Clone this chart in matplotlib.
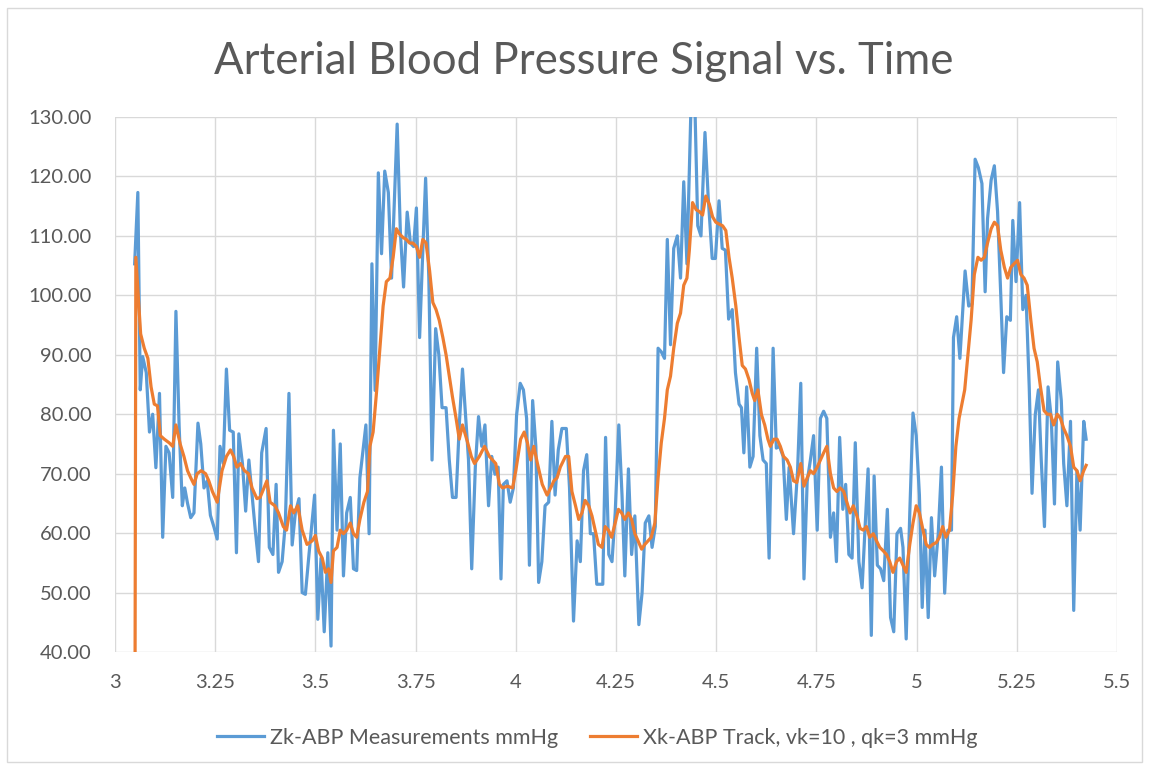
import numpy as np
import matplotlib.pyplot as plt
from matplotlib.patches import Rectangle

plt.rcParams['font.family'] = ['Lato', 'DejaVu Sans']

# Zk - ABP measurements (mmHg) vs time
zk_t = [3.049, 3.057, 3.063, 3.069, 3.078, 3.086, 3.094, 3.102, 3.111, 3.119,
        3.127, 3.135, 3.144, 3.152, 3.160, 3.168, 3.174, 3.181, 3.189, 3.197,
        3.207, 3.214, 3.222, 3.230, 3.238, 3.247, 3.255, 3.262, 3.270, 3.278,
        3.286, 3.295, 3.303, 3.309, 3.318, 3.326, 3.334, 3.342, 3.350, 3.358,
        3.366, 3.377, 3.385, 3.394, 3.402, 3.408, 3.417, 3.425,
        3.434, 3.442, 3.450, 3.459, 3.467, 3.475, 3.484, 3.498, 3.506, 3.514,
        3.522, 3.531, 3.539, 3.545, 3.554, 3.562, 3.570, 3.578, 3.587, 3.595,
        3.603, 3.611, 3.620, 3.626, 3.634, 3.641, 3.649, 3.657, 3.665, 3.673,
        3.682, 3.690, 3.698, 3.704, 3.712, 3.720, 3.729, 3.737, 3.745, 3.752,
        3.760, 3.768, 3.775, 3.783, 3.791, 3.800, 3.808, 3.816, 3.826, 3.834,
        3.842, 3.851, 3.859, 3.867,
        3.882, 3.890, 3.899, 3.907, 3.915, 3.923, 3.932, 3.940, 3.948, 3.956,
        3.963, 3.969, 3.978, 3.986, 3.994, 4.002, 4.011, 4.019, 4.027, 4.034,
        4.042, 4.050, 4.057, 4.065, 4.073, 4.082, 4.090, 4.098, 4.106, 4.115,
        4.126, 4.134, 4.144, 4.153, 4.161, 4.169, 4.177, 4.186, 4.194, 4.202,
        4.210, 4.217, 4.224, 4.232, 4.240, 4.248, 4.257, 4.265, 4.272, 4.281,
        4.289, 4.297,
        4.307, 4.315, 4.323, 4.332, 4.340, 4.348, 4.355, 4.363, 4.371, 4.378,
        4.386, 4.394, 4.403, 4.411, 4.419, 4.427, 4.437, 4.447, 4.454, 4.462,
        4.472, 4.480, 4.490, 4.498, 4.507, 4.515, 4.523, 4.531, 4.540, 4.548,
        4.557, 4.563, 4.569, 4.576, 4.584, 4.592, 4.601, 4.609, 4.617, 4.625,
        4.632, 4.642, 4.650, 4.658, 4.667, 4.675, 4.682, 4.693, 4.703, 4.711,
        4.719, 4.727, 4.735, 4.743, 4.752, 4.760, 4.768, 4.776, 4.785, 4.793,
        4.800, 4.808, 4.816, 4.823, 4.831, 4.839, 4.847, 4.856, 4.864, 4.872,
        4.879, 4.887, 4.894, 4.902, 4.910, 4.918, 4.927, 4.935, 4.943, 4.951,
        4.960, 4.966, 4.974, 4.983, 4.991, 4.999, 5.007, 5.014, 5.021, 5.029,
        5.037, 5.045, 5.054, 5.062, 5.070, 5.078, 5.087, 5.092, 5.100, 5.108,
        5.121, 5.130, 5.138, 5.146, 5.154, 5.163, 5.171, 5.177, 5.186, 5.194,
        5.202, 5.210, 5.217, 5.225, 5.234, 5.240, 5.248, 5.257, 5.265, 5.273,
        5.281, 5.288, 5.296, 5.304, 5.311, 5.319, 5.328, 5.336, 5.344, 5.352,
        5.361, 5.367, 5.375, 5.384, 5.392, 5.400, 5.408, 5.417, 5.423]
zk_v = [105.3, 117.3, 84.1, 89.7, 87.0, 77.0, 80.0, 71.0, 83.5, 59.3,
        74.6, 73.5, 66.0, 97.3, 78.0, 64.6, 67.6, 65.0, 62.6, 63.4,
        78.5, 75.0, 67.6, 68.8, 63.0, 61.0, 59.0, 74.6, 71.7, 87.6,
        77.3, 77.0, 56.7, 76.7, 71.7, 63.7, 72.3, 66.4, 60.5, 55.2,
        73.5, 77.6, 57.6, 56.4, 68.2, 53.4, 55.2, 61.7,
        83.5, 58.0, 63.4, 65.8, 50.0, 49.7, 56.4, 66.4, 45.5, 55.8,
        43.4, 56.7, 41.0, 77.3, 60.5, 75.0, 52.8, 63.4, 66.0, 54.0,
        53.7, 69.3, 74.6, 78.2, 59.9, 105.3, 84.0, 120.6, 107.0, 120.9,
        117.3, 102.9, 117.6, 128.8, 110.6, 101.4, 114.0, 108.8, 108.2, 114.7,
        92.9, 107.6, 119.7, 102.9, 72.3, 94.4, 90.0, 81.1, 81.1, 72.3,
        66.0, 66.0, 78.2, 87.6,
        72.3, 54.0, 71.1, 79.6, 74.6, 78.2, 64.6, 72.9, 69.9, 71.1,
        52.3, 68.2, 68.8, 65.2, 67.6, 79.9, 85.2, 84.1, 79.3, 54.6,
        82.3, 74.6, 51.7, 55.2, 64.6, 65.2, 78.8, 66.4, 74.0, 77.6,
        77.6, 67.6, 45.2, 58.7, 55.2, 70.5, 73.2, 59.9, 59.9, 51.4,
        51.4, 51.4, 76.1, 56.4, 55.2, 63.4, 78.2, 66.4, 52.8, 70.8,
        56.4, 62.9,
        44.6, 49.9, 61.7, 62.9, 57.6, 61.1, 91.1, 90.5, 89.4, 109.4,
        91.7, 107.9, 110.0, 102.9, 119.1, 105.3, 131.5, 131.5, 111.7, 110.0,
        127.4, 116.5, 106.2, 106.2, 115.9, 107.9, 107.6, 96.0, 97.6, 87.0,
        81.7, 81.1, 73.5, 84.6, 71.1, 72.9, 91.1, 76.4, 72.3, 71.7,
        55.8, 91.1, 74.3, 74.6, 72.9, 62.3, 71.1, 59.9, 70.5, 85.2,
        52.3, 68.7, 72.3, 76.4, 60.5, 79.3, 80.5, 79.3, 59.3, 63.4,
        55.2, 76.1, 64.0, 68.2, 56.4, 55.8, 75.2, 55.2, 50.8, 61.7,
        70.8, 42.8, 69.6, 54.6, 54.0, 52.0, 64.0, 45.8, 43.4, 59.9,
        60.8, 57.6, 42.2, 63.4, 80.2, 76.4, 66.4, 47.5, 60.5, 45.8,
        62.6, 52.8, 59.9, 71.1, 49.9, 60.5, 60.5, 92.9, 96.4, 89.4,
        104.1, 98.2, 98.5, 122.9, 121.5, 118.8, 100.6, 112.9, 119.4, 121.8,
        114.1, 100.0, 87.0, 96.4, 95.8, 112.6, 102.3, 115.6, 97.6, 100.0,
        84.6, 66.7, 79.9, 84.1, 72.3, 61.1, 84.6, 79.3, 64.9, 88.8,
        82.3, 71.7, 64.6, 78.8, 47.0, 70.5, 60.5, 78.8, 75.8]

# Xk - ABP track (vk=10, qk=3)
xk_t = [3.049, 3.052, 3.064, 3.073, 3.082, 3.090, 3.098, 3.106, 3.113, 3.123,
        3.135, 3.144, 3.152, 3.163, 3.172, 3.181, 3.189, 3.197, 3.205, 3.215,
        3.226, 3.234, 3.243, 3.255, 3.267, 3.278, 3.288, 3.296, 3.304, 3.313,
        3.323, 3.333, 3.342, 3.354, 3.362, 3.370, 3.379, 3.387, 3.399, 3.408,
        3.420, 3.428,
        3.438, 3.446, 3.456, 3.467, 3.479, 3.492, 3.500, 3.508, 3.517, 3.525,
        3.533, 3.539, 3.545, 3.554, 3.562, 3.570, 3.578, 3.587, 3.595, 3.603,
        3.611, 3.621, 3.630, 3.636, 3.644, 3.653, 3.661, 3.669, 3.677, 3.686,
        3.694, 3.702, 3.710, 3.719, 3.727, 3.735, 3.743, 3.752, 3.760, 3.768,
        3.776, 3.785, 3.793, 3.801, 3.809, 3.818, 3.826, 3.834, 3.842, 3.851,
        3.859, 3.867,
        3.880, 3.889, 3.897, 3.909, 3.922, 3.934, 3.942, 3.950, 3.959, 3.967,
        3.979, 3.992, 4.000, 4.012, 4.021, 4.029, 4.037, 4.045, 4.054, 4.066,
        4.078, 4.087, 4.095, 4.103, 4.111, 4.124, 4.132, 4.140, 4.149, 4.157,
        4.165, 4.173, 4.182, 4.190, 4.198, 4.206, 4.215, 4.223, 4.231, 4.239,
        4.248, 4.256, 4.264, 4.272, 4.281, 4.289, 4.297,
        4.305, 4.314, 4.322, 4.330, 4.338, 4.347, 4.355, 4.363, 4.371, 4.378,
        4.386, 4.394, 4.403, 4.411, 4.419, 4.427, 4.433, 4.441, 4.450, 4.458,
        4.466, 4.474, 4.483, 4.491, 4.499, 4.507, 4.516, 4.524, 4.532, 4.540,
        4.549, 4.557, 4.565, 4.573, 4.582, 4.590, 4.596, 4.604, 4.613, 4.621,
        4.629, 4.635, 4.644, 4.652, 4.660, 4.668, 4.677, 4.685, 4.693, 4.701,
        4.711,
        4.719, 4.727, 4.735, 4.743, 4.752, 4.760, 4.768, 4.776, 4.785, 4.793,
        4.801, 4.809, 4.818, 4.826, 4.834, 4.842, 4.851, 4.859, 4.867, 4.875,
        4.883, 4.892, 4.900, 4.908, 4.917, 4.925, 4.933, 4.941, 4.950, 4.958,
        4.966, 4.974, 4.983, 4.991, 4.999, 5.007, 5.016, 5.024, 5.032, 5.040,
        5.049, 5.057, 5.065, 5.073, 5.082, 5.090, 5.098, 5.106,
        5.120, 5.128, 5.136, 5.144, 5.153, 5.161, 5.169, 5.177, 5.186, 5.194,
        5.202, 5.210, 5.219, 5.227, 5.235, 5.243, 5.252, 5.260, 5.268, 5.276,
        5.285, 5.293, 5.301, 5.309, 5.318, 5.326, 5.334, 5.342, 5.351, 5.359,
        5.367, 5.375, 5.384, 5.392, 5.400, 5.408, 5.417, 5.423]
xk_v = [0.0, 106.4, 93.5, 91.1, 89.4, 84.6, 81.7, 81.4, 76.4, 75.8,
        75.2, 74.6, 78.2, 74.9, 72.9, 70.5, 69.3, 68.2, 70.0, 70.5,
        70.0, 68.8, 67.0, 65.2, 70.5, 72.9, 74.0, 72.9, 71.1, 71.7,
        70.5, 70.0, 67.6, 65.8, 66.0, 67.3, 68.8, 65.2, 64.6, 63.4,
        61.1, 60.5,
        64.6, 63.4, 64.6, 60.5, 58.1, 58.7, 59.6, 57.0, 55.8, 53.4,
        54.0, 51.7, 57.0, 57.6, 60.5, 59.9, 60.5, 61.7, 59.9, 59.3,
        62.3, 65.2, 67.0, 74.6, 77.0, 84.1, 91.1, 98.2, 102.3, 102.9,
        106.4, 111.2, 110.3, 109.7, 109.4, 108.8, 108.8, 108.2, 106.4, 109.4,
        108.8, 104.1, 98.8, 97.6, 95.8, 92.9, 90.0, 86.4, 82.9, 79.3,
        75.8, 78.2,
        75.2, 72.9, 71.7, 72.9, 74.6, 72.9, 72.3, 71.7, 68.2, 67.6,
        67.9, 67.6, 70.5, 75.8, 77.0, 75.2, 72.3, 74.6, 71.7, 68.2,
        66.4, 67.6, 68.8, 69.3, 71.1, 72.9, 72.9, 67.0, 64.6, 62.3,
        63.4, 65.5, 64.6, 62.9, 60.5, 58.1, 57.6, 61.1, 60.5, 59.3,
        61.7, 64.0, 63.4, 62.3, 63.4, 62.3, 59.9,
        58.7, 57.3, 58.1, 58.7, 59.3, 61.7, 69.3, 75.2, 79.3, 84.1,
        86.4, 91.1, 95.3, 97.0, 101.7, 102.9, 107.6, 115.6, 114.4, 114.1,
        113.5, 116.7, 115.3, 113.2, 112.3, 112.0, 111.7, 110.9, 106.4, 102.9,
        98.2, 92.9, 88.2, 87.6, 85.8, 83.5, 82.3, 84.1, 79.9, 78.2,
        75.8, 74.6, 75.8, 75.8, 74.6, 72.9, 72.3, 71.1, 68.8, 68.5,
        71.7,
        67.9, 69.3, 70.5, 70.0, 71.1, 72.3, 73.5, 74.6, 70.0, 67.6,
        67.0, 67.6, 67.0, 65.2, 63.4, 64.6, 62.9, 60.8, 60.5, 61.1,
        59.3, 59.9, 58.7, 57.6, 57.0, 56.4, 55.2, 53.4, 55.2, 55.8,
        54.6, 53.4, 58.1, 61.7, 64.6, 63.4, 60.5, 58.1, 57.6, 58.1,
        58.4, 59.3, 61.1, 59.3, 60.5, 66.4, 74.6, 79.3,
        84.1, 90.0, 95.8, 103.5, 106.4, 105.9, 106.4, 108.8, 111.2, 112.3,
        111.7, 107.6, 104.7, 102.9, 104.7, 105.3, 105.9, 103.5, 102.9, 101.7,
        95.8, 91.1, 88.8, 84.6, 80.6, 80.0, 80.0, 78.2, 80.0, 79.3,
        77.6, 76.4, 74.6, 71.1, 70.5, 68.8, 70.5, 71.4]

x_ticks = [3, 3.25, 3.5, 3.75, 4, 4.25, 4.5, 4.75, 5, 5.25, 5.5]
x_tick_labels = ['3', '3.25', '3.5', '3.75', '4', '4.25', '4.5', '4.75', '5', '5.25', '5.5']
y_ticks = [40, 50, 60, 70, 80, 90, 100, 110, 120, 130]

txt = '#595959'
grid = '#D9D9D9'

fig = plt.figure(figsize=(11.5, 7.69), dpi=100)
W, H = 1150, 769
ax = fig.add_axes([115 / W, 1 - 652 / H, (1117 - 115) / W, (652 - 117) / H])

ax.plot(zk_t, zk_v, color='#5B9BD5', lw=2.3, label='Zk-ABP Measurements mmHg')
ax.plot(xk_t, xk_v, color='#ED7D31', lw=2.3, label='Xk-ABP Track, vk=10 , qk=3 mmHg')

ax.set_xlim(3, 5.5)
ax.set_ylim(40, 130)
ax.set_xticks(x_ticks)
ax.set_xticklabels(x_tick_labels)
ax.set_yticks(y_ticks)
ax.set_yticklabels([f'{v:.2f}' for v in y_ticks])
ax.grid(True, color=grid, lw=1)
ax.set_axisbelow(True)
for s in ax.spines.values():
    s.set_visible(False)
ax.tick_params(length=0, labelsize=14.5, labelcolor=txt)
ax.tick_params(axis='x', pad=16)
ax.tick_params(axis='y', pad=17)

fig.text(584 / W, 1 - 61 / H, 'Arterial Blood Pressure Signal vs. Time',
         ha='center', va='center', fontsize=31.5, color=txt)

leg = fig.legend(loc='center', bbox_to_anchor=(597 / W, 1 - 738 / H), ncol=2,
                 frameon=False, fontsize=15.5, handlelength=2.2, columnspacing=1.5,
                 handletextpad=0.25)
for t in leg.get_texts():
    t.set_color(txt)

fig.patches.append(Rectangle((7 / W, 7 / H), (1142 - 7) / W, (761 - 7) / H,
                             transform=fig.transFigure, fill=False,
                             ec=grid, lw=1))

fig.savefig('out.png', dpi=100)
